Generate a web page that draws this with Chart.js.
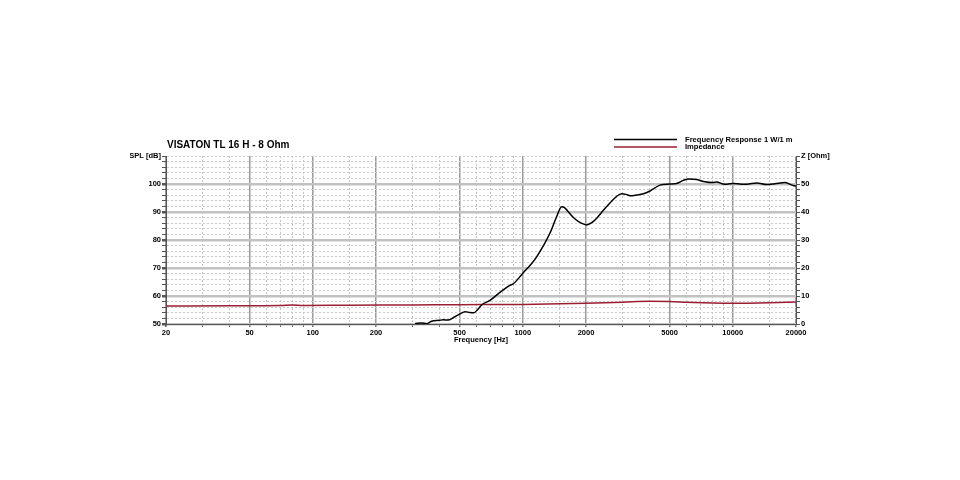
<!DOCTYPE html>
<html>
<head>
<meta charset="utf-8">
<script src="https://cdn.jsdelivr.net/npm/chart.js@4"></script>
<style>
  html, body { margin: 0; padding: 0; background: #fff; }
  #wrap { width: 960px; height: 480px; }
</style>
</head>
<body>
<div id="wrap"><canvas id="myChart" width="960" height="480"></canvas></div>
<script>
var chartTitle = 'VISATON TL 16 H - 8 Ohm';

// frequency response
var splFreq = [307, 330, 348, 368, 400, 418, 440, 470, 502, 531, 560, 585, 610, 637, 700, 778, 869, 900,
  1005, 1100, 1164, 1250, 1348, 1449, 1531, 1580, 1650, 1774, 1900, 2015, 2130, 2249, 2420, 2601, 2800,
  2957, 3100, 3245, 3500, 3750, 4034, 4500, 5000, 5400, 5810, 6200, 6730, 7370, 8000, 8380, 9000, 9360,
  10060, 11000, 11650, 13000, 14500, 15900, 17700, 19000, 20000];
var splDb = [50.2, 50.4, 50.1, 51.0, 51.3, 51.5, 51.4, 52.4, 53.6, 54.4, 54.1, 54.0, 55.2, 56.8, 58.5, 61.3, 63.8, 64.3,
  68.3, 71.5, 74.0, 77.8, 82.5, 88.3, 91.9, 91.6, 90.0, 87.5, 86.0, 85.4, 86.2, 87.8, 90.6, 93.2, 95.6,
  96.5, 96.3, 95.8, 96.1, 96.5, 97.5, 99.6, 100.0, 100.2, 101.3, 101.8, 101.6, 100.8, 100.5, 100.7, 100.0, 99.9,
  100.2, 99.9, 99.9, 100.4, 99.8, 100.1, 100.5, 99.7, 99.2];

// impedance
var zFreq = [20, 40, 70, 80, 90, 150, 300, 500, 1000, 1500, 2000, 3000, 4000, 5000, 6000, 8000, 10000, 15000, 20000];
var zOhm = [6.4, 6.5, 6.6, 6.8, 6.6, 6.7, 6.8, 6.9, 7.0, 7.2, 7.4, 7.8, 8.1, 8.0, 7.8, 7.5, 7.4, 7.6, 7.9];

var seriesNames = ['Frequency Response 1 W/1 m', 'Impedance'];
var seriesColors = ['#000000', '#9a1f33'];

var xLabels = [20, 50, 100, 200, 500, 1000, 2000, 5000, 10000, 20000];
var yLeftLabels = [50, 60, 70, 80, 90, 100];
var yRightLabels = [0, 10, 20, 30, 40, 50];

function pts(xs, ys) {
  var out = [];
  for (var i = 0; i < xs.length; i++) out.push({x: xs[i], y: ys[i]});
  return out;
}

var tickFont = {family: '"Liberation Sans", Arial, sans-serif', size: 7.5, weight: 'bold'};

// title and stacked legend, placed relative to the chart area
var headerPlugin = {
  id: 'header',
  afterDraw: function(chart) {
    var ctx = chart.ctx, area = chart.chartArea;
    ctx.save();
    ctx.fillStyle = '#000';
    ctx.font = 'bold 10px "Liberation Sans", Arial, sans-serif';
    ctx.textBaseline = 'alphabetic';
    ctx.fillText(chartTitle, area.left + 1, 148);

    ctx.font = 'bold 7.6px "Liberation Sans", Arial, sans-serif';
    ctx.textBaseline = 'middle';
    chart.data.datasets.forEach(function(ds, i) {
      var y = 139.5 + i * 7.5;
      ctx.strokeStyle = ds.borderColor;
      ctx.lineWidth = 1.5;
      ctx.beginPath();
      ctx.moveTo(614, y);
      ctx.lineTo(677, y);
      ctx.stroke();
      ctx.fillText(ds.label, 685, y);
    });
    ctx.restore();
  }
};

var ctx = document.getElementById('myChart').getContext('2d');
var myChart = new Chart(ctx, {
  type: 'line',
  data: {
    datasets: [
      {
        label: seriesNames[0],
        data: pts(splFreq, splDb),
        borderColor: seriesColors[0],
        borderWidth: 1.5,
        pointRadius: 0,
        cubicInterpolationMode: 'monotone',
        yAxisID: 'y'
      },
      {
        label: seriesNames[1],
        data: pts(zFreq, zOhm),
        borderColor: seriesColors[1],
        borderWidth: 1.5,
        pointRadius: 0,
        cubicInterpolationMode: 'monotone',
        yAxisID: 'y2'
      }
    ]
  },
  options: {
    responsive: false,
    animation: false,
    events: [],
    layout: {padding: {left: 130, right: 128, top: 156, bottom: 136}},
    plugins: {legend: {display: false}, title: {display: false}, tooltip: {enabled: false}},
    scales: {
      x: {
        type: 'logarithmic',
        min: 20,
        max: 20000,
        afterFit: function(s) { s.height = 20; },
        ticks: {
          autoSkip: false,
          maxRotation: 0,
          padding: 1,
          color: '#000',
          font: tickFont,
          callback: function(v) { return xLabels.indexOf(v) >= 0 ? String(v) : ''; }
        },
        grid: {
          tickLength: 3,
          tickColor: '#666',
          color: function(c) { return c.tick && xLabels.indexOf(c.tick.value) >= 0 ? '#9a9a9a' : '#c4c4c4'; },
          lineWidth: function(c) { return c.tick && xLabels.indexOf(c.tick.value) >= 0 ? 1.5 : 1; }
        },
        border: {
          display: true,
          color: '#555',
          width: 1,
          dash: function(c) { return c.tick && xLabels.indexOf(c.tick.value) < 0 ? [2, 2] : []; }
        },
        title: {
          display: true,
          text: 'Frequency [Hz]',
          color: '#000',
          font: tickFont,
          padding: 0
        }
      },
      y: {
        position: 'left',
        min: 50,
        max: 110,
        afterFit: function(s) { s.width = 36; },
        ticks: {
          stepSize: 2,
          autoSkip: false,
          padding: 1,
          color: '#000',
          font: tickFont,
          callback: function(v) {
            if (v === 110) return 'SPL [dB]';
            return yLeftLabels.indexOf(v) >= 0 ? String(v) : '';
          }
        },
        grid: {
          tickLength: 4,
          tickColor: '#555',
          color: function(c) { return c.tick && yLeftLabels.indexOf(c.tick.value) >= 0 ? '#c2c2c2' : '#cccccc'; },
          lineWidth: function(c) { return c.tick && yLeftLabels.indexOf(c.tick.value) >= 0 ? 2.5 : 1; }
        },
        border: {
          display: true,
          color: '#555',
          width: 1,
          dash: function(c) { return c.tick && yLeftLabels.indexOf(c.tick.value) < 0 ? [2, 2] : []; }
        }
      },
      y2: {
        position: 'right',
        min: 0,
        max: 60,
        afterFit: function(s) { s.width = 36; },
        ticks: {
          stepSize: 2,
          autoSkip: false,
          padding: 1,
          color: '#000',
          font: tickFont,
          callback: function(v) {
            if (v === 60) return 'Z [Ohm]';
            return yRightLabels.indexOf(v) >= 0 ? String(v) : '';
          }
        },
        grid: {
          drawOnChartArea: false,
          tickLength: 4,
          tickColor: '#555'
        },
        border: {display: true, color: '#555', width: 1}
      }
    }
  },
  plugins: [headerPlugin]
});
</script>
</body>
</html>
